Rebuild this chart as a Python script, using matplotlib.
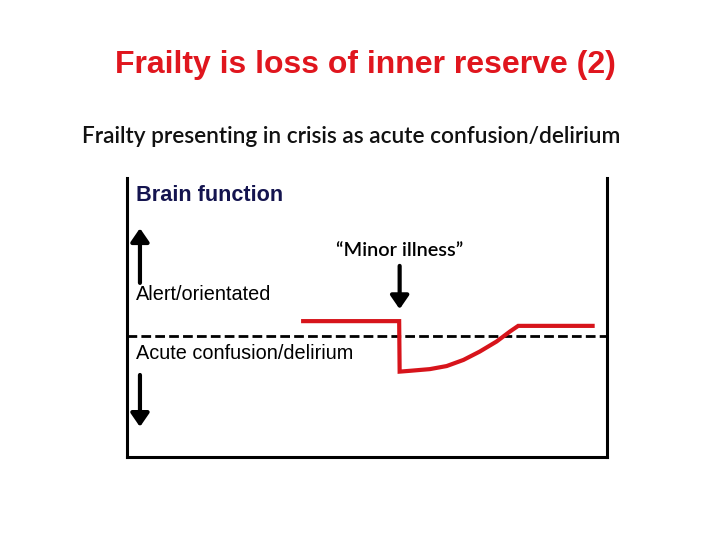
import matplotlib.pyplot as plt

# brain function over time (arbitrary units, 0-100)
time = [36.7, 56.7, 56.8, 59.0, 63.1, 66.6, 70.1, 73.5, 77.0, 79.8, 81.5, 97.0]
brain = [48.7, 48.7, 30.6, 30.9, 31.5, 32.6, 34.8, 37.8, 41.4, 45.0, 47.0, 47.0]
threshold = 43.5  # alert vs delirium
illness_time = 56.8

fig = plt.figure(figsize=(7.2, 5.4), dpi=100)
fig.patch.set_facecolor('white')

fig.text(0.507, 0.879, 'Frailty is loss of inner reserve (2)', color='#e0161e',
         fontsize=23, fontweight='bold', family='Liberation Sans', ha='center', va='center')
fig.text(0.488, 0.748, 'Frailty presenting in crisis as acute confusion/delirium', color='#111111',
         fontsize=16.3, fontweight='semibold', family='Lato', ha='center', va='center')

ax = fig.add_axes([127/720, 1-457/540, 480/720, 279/540])
ax.set_xlim(0, 100)
ax.set_ylim(0, 100)
ax.set_xticks([])
ax.set_yticks([])
ax.spines['top'].set_visible(False)
for s in ['left', 'right', 'bottom']:
    ax.spines[s].set_linewidth(2.2)
    ax.spines[s].set_color('black')

ax.axhline(threshold, color='black', lw=2, ls=(0, (3.5, 1.5)))
ax.plot(time, brain, color='#d7141b', lw=3, solid_joinstyle='miter', clip_on=False)

arrow = dict(arrowstyle='-|>,head_width=0.55,head_length=0.8', color='black', lw=3,
             shrinkA=0, shrinkB=0)
ax.annotate('', xy=(2.7, 82.0), xytext=(2.7, 62.4), arrowprops=arrow)
ax.annotate('', xy=(2.7, 10.8), xytext=(2.7, 29.4), arrowprops=arrow)
ax.annotate('', xy=(illness_time, 53.0), xytext=(illness_time, 68.5), arrowprops=arrow)

ax.text(1.9, 93.9, 'Brain function', color='#14144f', fontsize=15.6, fontweight='bold',
        family='Liberation Sans', va='center')
ax.text(1.9, 58.2, 'Alert/orientated', fontsize=14.3, family='Liberation Sans', va='center')
ax.text(1.9, 37.1, 'Acute confusion/delirium', fontsize=14.3, family='Liberation Sans', va='center')
ax.text(56.9, 74.0, '\u201cMinor illness\u201d', fontsize=14.3, fontweight='semibold', family='Lato',
        ha='center', va='center')

fig.savefig('out.png', dpi=100)
